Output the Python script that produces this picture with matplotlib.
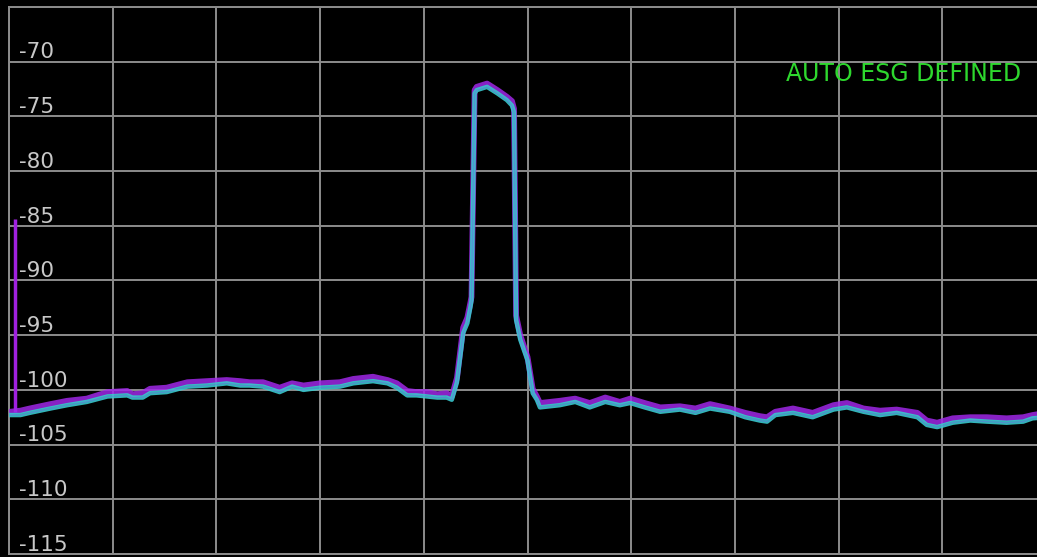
import matplotlib.pyplot as plt

# spectrum trace, x in screen divisions (0..10), level in dBm
trace_x = [0.01, 0.11, 0.20, 0.40, 0.56, 0.75, 0.95, 1.14, 1.19, 1.29, 1.36, 1.52, 1.72,
           1.91, 2.10, 2.23, 2.32, 2.45, 2.61, 2.73, 2.84, 3.00, 3.19, 3.32, 3.51, 3.65,
           3.74, 3.84, 3.93, 4.03, 4.13, 4.22, 4.27, 4.32, 4.38, 4.42, 4.45, 4.46, 4.49,
           4.51, 4.61, 4.71, 4.80, 4.85, 4.87, 4.89, 4.93, 5.00, 5.05, 5.09, 5.12, 5.31,
           5.46, 5.60, 5.75, 5.89, 5.99, 6.13, 6.28, 6.47, 6.62, 6.76, 6.95, 7.10, 7.24,
           7.31, 7.39, 7.56, 7.75, 7.95, 8.08, 8.24, 8.40, 8.56, 8.76, 8.85, 8.95, 9.10,
           9.27, 9.43, 9.62, 9.78, 9.87, 10.0]
cyan_db = [-102.3, -102.3, -102.1, -101.7, -101.4, -101.1, -100.6, -100.5, -100.7, -100.7,
           -100.3, -100.2, -99.7, -99.6, -99.4, -99.6, -99.6, -99.7, -100.2, -99.7, -100.0,
           -99.8, -99.7, -99.4, -99.2, -99.4, -99.8, -100.5, -100.5, -100.6, -100.7, -100.7,
           -100.9, -99.3, -94.8, -93.9, -92.4, -91.8, -72.9, -72.6, -72.3, -72.9, -73.5,
           -74.0, -74.6, -93.6, -95.4, -97.3, -100.3, -100.9, -101.6, -101.4, -101.1,
           -101.6, -101.1, -101.4, -101.2, -101.6, -102.0, -101.8, -102.1, -101.7, -102.0,
           -102.5, -102.8, -102.9, -102.3, -102.1, -102.5, -101.8, -101.6, -102.0, -102.3,
           -102.1, -102.5, -103.2, -103.4, -103.0, -102.8, -102.9, -103.0, -102.9, -102.6,
           -102.5]
magenta_db = [-102.0, -101.9, -101.7, -101.3, -101.0, -100.8, -100.2, -100.1, -100.4, -100.3,
              -99.9, -99.8, -99.3, -99.2, -99.1, -99.2, -99.3, -99.3, -99.8, -99.4, -99.6,
              -99.4, -99.3, -99.0, -98.8, -99.1, -99.4, -100.1, -100.2, -100.2, -100.4, -100.3,
              -100.6, -98.9, -94.3, -93.4, -92.0, -91.5, -72.6, -72.3, -72.0, -72.6, -73.2,
              -73.6, -74.3, -93.2, -95.0, -97.0, -99.9, -100.6, -101.2, -101.0, -100.8,
              -101.2, -100.7, -101.1, -100.8, -101.2, -101.6, -101.5, -101.7, -101.3, -101.7,
              -102.1, -102.4, -102.5, -102.0, -101.7, -102.1, -101.4, -101.2, -101.7, -101.9,
              -101.8, -102.1, -102.8, -103.0, -102.6, -102.5, -102.5, -102.6, -102.5, -102.3,
              -102.1]

# spur at the left edge of the magenta trace
spur_x = 0.06
spur_top = -84.4
spur_bottom = -102.0

y_ticks = [-70, -75, -80, -85, -90, -95, -100, -105, -110, -115]
banner = "AUTO ESG DEFINED"

fig = plt.figure(figsize=(10.37, 5.57), dpi=100, facecolor="black")
ax = fig.add_axes([9 / 1037, 3 / 557, 1037 / 1037, 547 / 557], facecolor="black")
ax.set_xlim(0, 10)
ax.set_ylim(-115, -65)
ax.set_xticks(range(0, 11))
ax.set_yticks(range(-115, -64, 5))
ax.tick_params(length=0, labelbottom=False, labelleft=False)
ax.grid(True, color="#8c8c8c", linewidth=1.4)
ax.set_axisbelow(True)
for s in ax.spines.values():
    s.set_color("#8c8c8c")
    s.set_linewidth(1.4)

# traces
ax.vlines(spur_x, spur_bottom, spur_top, color="#a020e0", linewidth=2.5, zorder=3)
ax.plot(trace_x, magenta_db, color="#a028e8", linewidth=4.2, alpha=0.85, zorder=3)
ax.plot(trace_x, cyan_db, color="#38c8cc", linewidth=3.2, alpha=0.9, zorder=4)
ax.plot(trace_x, cyan_db, color="#6a70e0", linewidth=0.8, alpha=0.5, zorder=5)

for v in y_ticks:
    ax.text(0.1, v + 0.3, str(v), color="#c8c8c8", fontsize=15.5,
            family="DejaVu Sans", va="baseline", ha="left", zorder=6)

ax.text(7.49, -71.1, banner, color="#2ed82e", fontsize=17, family="DejaVu Sans",
        va="center", ha="left", zorder=6)

fig.savefig("out.png", dpi=100, facecolor="black")
